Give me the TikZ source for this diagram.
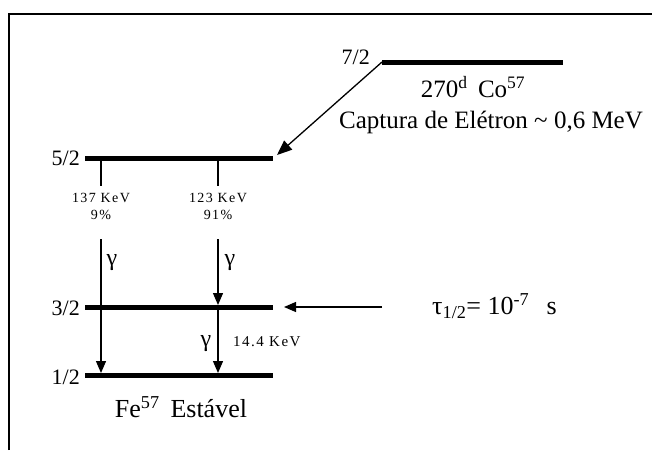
\documentclass[tikz,border=0pt]{standalone}
\usepackage{fontspec}
\setmainfont{Liberation Serif}
\newfontfamily\smallfont[LetterSpace=10]{Liberation Serif}
\usetikzlibrary{arrows.meta}
\begin{document}
\begin{tikzpicture}[x=1pt,y=-1pt,
  level/.style={line width=5pt},
  thin/.style={line width=1.3pt},
  lab/.style={font=\fontsize{22}{24}\selectfont, inner sep=0pt},
  big/.style={font=\fontsize{25}{27}\selectfont, inner sep=0pt},
  small/.style={font=\smallfont\fontsize{14}{16}\selectfont, inner sep=0pt},
  gam/.style={font=\fontsize{24}{26}\selectfont, inner sep=0pt},
  tip/.style={-{Triangle[length=12pt,width=10pt]}}]
\useasboundingbox (0,0) rectangle (652,450);
\fill[white] (0,0) rectangle (652,450);
% frame
\draw[line width=1.5pt] (9,450) -- (9,14) -- (652,14);
% levels
\coordinate (l7a) at (382,62); \coordinate (l7b) at (563,62);
\coordinate (l5a) at (85,158); \coordinate (l5b) at (273,158);
\coordinate (l3a) at (85,307); \coordinate (l3b) at (273,307);
\coordinate (l1a) at (85,375); \coordinate (l1b) at (273,375);
\draw[level] (l7a) -- (l7b);
\draw[level] (l5a) -- (l5b);
\draw[level] (l3a) -- (l3b);
\draw[level] (l1a) -- (l1b);
\node[lab, anchor=east] (s7) at (370,57) {7/2};
\node[lab, anchor=east] (s5) at (80,158) {5/2};
\node[lab, anchor=east] (s3) at (80,308) {3/2};
\node[lab, anchor=east] (s1) at (80,377) {1/2};
% electron capture
\coordinate (ec) at (277,155);
\draw[thin, -{Triangle[length=15pt,width=12pt]}] (l7a) -- (ec);
\node[big] (co) at (473,87) {270\textsuperscript{d}\, Co\textsuperscript{57}};
\node[big] (cap) at (491,122) {Captura de Elétron \char"007E\ 0,6 MeV};
% ticks
\coordinate (t1a) at (101,158); \coordinate (t1b) at (101,186);
\coordinate (t2a) at (218,158); \coordinate (t2b) at (218,186);
\draw[thin] (t1a) -- (t1b);
\draw[thin] (t2a) -- (t2b);
\node[small] (e1) at (101,198) {137 KeV};
\node[small] (p1) at (101,215) {9\%};
\node[small] (e2) at (218,198) {123 KeV};
\node[small] (p2) at (218,215) {91\%};
% gamma arrows
\coordinate (g1a) at (101,239); \coordinate (g1b) at (101,373);
\coordinate (g2a) at (218,239); \coordinate (g2b) at (218,305);
\coordinate (g3a) at (218,307); \coordinate (g3b) at (218,373);
\draw[thin, tip] (g1a) -- (g1b);
\draw[thin, tip] (g2a) -- (g2b);
\draw[thin, tip] (g3a) -- (g3b);
\node[gam] (y1) at (112,263) {γ};
\node[gam] (y2) at (230,263) {γ};
\node[gam] (y3) at (206,344) {γ};
\node[small, anchor=west, font=\smallfont\fontsize{15}{16}\selectfont] (e3) at (233,342) {14.4 KeV};
% half-life
\coordinate (ta) at (382,307); \coordinate (tb) at (284,307);
\draw[thin, tip] (ta) -- (tb);
\node[big, anchor=west, font=\fontsize{26}{28}\selectfont] (tau) at (432,306) {τ\textsubscript{1/2}= 10\textsuperscript{-7}\ \,\ s};
\node[big, font=\fontsize{26}{28}\selectfont] (fe) at (181,407) {Fe\textsuperscript{57}\, Estável};
\end{tikzpicture}
\end{document}
